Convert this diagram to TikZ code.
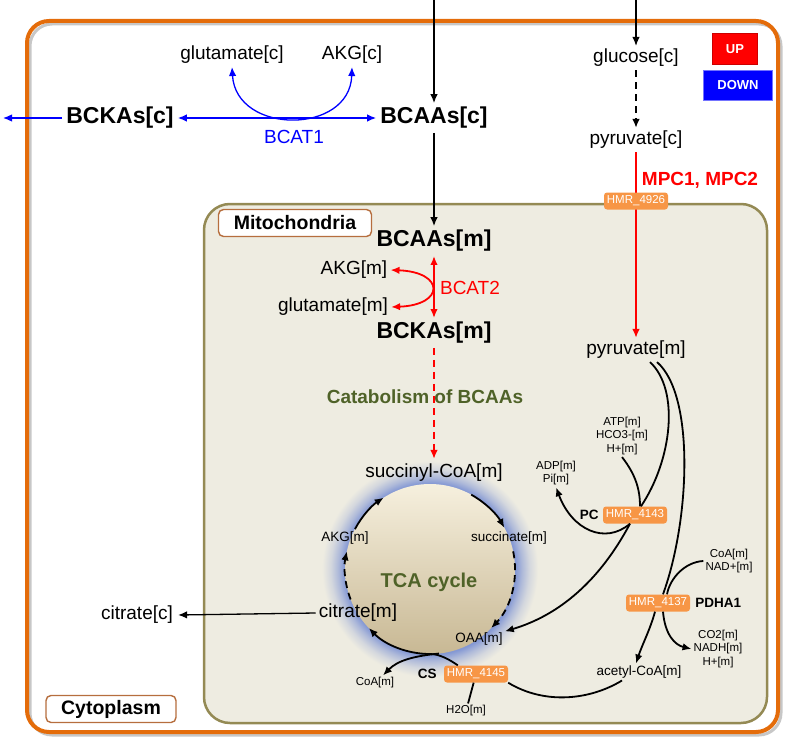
\documentclass[tikz,border=0pt]{standalone}
\usepackage{fontspec}
\setmainfont{Liberation Sans}
\usetikzlibrary{arrows.meta,positioning,calc}

\definecolor{cellorange}{RGB}{228,108,10}
\definecolor{mitofill}{RGB}{238,236,225}
\definecolor{mitoline}{RGB}{148,138,84}
\definecolor{tagbrown}{RGB}{182,110,62}
\definecolor{hmrorange}{RGB}{247,150,70}
\definecolor{olivetext}{RGB}{79,98,40}
\definecolor{glowblue}{RGB}{132,152,212}
\definecolor{tcatop}{RGB}{246,240,222}
\definecolor{tcabottom}{RGB}{200,184,148}

\pgfdeclareradialshading{tcaglow}{\pgfpointorigin}{color(0bp)=(glowblue); color(19.8bp)=(glowblue); color(21.3bp)=(glowblue!60!mitofill); color(23bp)=(glowblue!25!mitofill); color(25bp)=(mitofill); color(50bp)=(mitofill)}

\tikzset{
met/.style    = {font=\fontsize{19}{21}\selectfont, inner sep=3pt},
bigmet/.style = {font=\fontsize{23}{25}\selectfont\bfseries, inner sep=4pt},
cycmet/.style = {font=\fontsize{13.5}{15}\selectfont, inner sep=2pt},
cofac/.style  = {font=\fontsize{11.5}{13.5}\selectfont, inner sep=2pt, align=center},
enz/.style    = {font=\fontsize{19}{21}\selectfont, inner sep=1pt},
gene/.style   = {font=\fontsize{13.5}{15}\selectfont\bfseries, inner sep=1pt},
hmr/.style    = {fill=hmrorange, text=white, rounded corners=3pt, font=\fontsize{11.5}{13}\selectfont, minimum width=64pt, minimum height=17pt, inner sep=1pt},
comp/.style   = {draw=tagbrown, fill=white, line width=1.4pt, rounded corners=5pt, font=\fontsize{19.5}{21}\selectfont\bfseries, minimum height=27pt},
legend/.style = {text=white, font=\fontsize{13}{15}\selectfont\bfseries},
flux/.style   = {line width=1.3pt},
rxn/.style    = {line width=1.8pt},
dflux/.style  = {line width=1.8pt, dash pattern=on 7pt off 5pt}
}

\begin{document}
\begin{tikzpicture}[x=1pt, y=-1pt, >={Latex[length=9pt,width=7.5pt]}]
  \useasboundingbox (0,0) rectangle (787,741);
  % compartments
  \draw [black!22, line width=3pt, rounded corners=22pt] (30,24) rectangle (781,735);
  \draw [cellorange, line width=4pt, rounded corners=22pt] (27,21) rectangle (778,732);
  \draw [mitoline, fill=mitofill, line width=2.5pt, rounded corners=26pt] (204,204) rectangle (767,723);
  \coordinate (tcac) at (430,569);
  \shade [shading=tcaglow] (tcac) circle [radius=108];
  \shade [top color=tcatop, bottom color=tcabottom] (tcac) circle [radius=85];

  \node [comp, minimum width=153pt]                (mito)    at (295,223)  {Mitochondria};
  \node [comp, minimum width=130pt]                (cyto)    at (111,709)  {Cytoplasm};
  \node [legend, fill=red, draw=red!80!black, minimum width=45pt, minimum height=31pt]  (up)   at (735,49) {UP};
  \node [legend, fill=blue, draw=blue!55, minimum width=69pt, minimum height=30pt] (down) at (738,85) {DOWN};

  % cytoplasm
  \node [met]                                      (glutc)   at (232,55)   {glutamate[c]};
  \node [met]                                      (akgc)    at (352,55)   {AKG[c]};
  \node [bigmet]                                   (bckac)   at (120,118)  {BCKAs[c]};
  \node [bigmet]                                   (bcaac)   at (434,118)  {BCAAs[c]};
  \node [enz, text=blue]                           (bcat1)   at (294,137)  {BCAT1};
  \node [met]                                      (glucc)   at (636,58)   {glucose[c]};
  \node [met]                                      (pyrc)    at (636,140)  {pyruvate[c]};
  \node [enz, text=red, font=\fontsize{19}{21}\selectfont\bfseries] (mpc) at (700,180) {MPC1, MPC2};
  \node [met, inner sep=5pt]                       (citc)    at (137,615)  {citrate[c]};
  \coordinate                                      (bckaout) at (3,118);
  \coordinate                                      (bcaain)  at (434,0);
  \coordinate                                      (glucin)  at (636,0);

  % mitochondria
  \node [bigmet]                                   (bcaam)   at (434,241)  {BCAAs[m]};
  \node [met]                                      (akgm)    at (354,270)  {AKG[m]};
  \node [met]                                      (glutm)   at (333,307)  {glutamate[m]};
  \node [enz, text=red]                            (bcat2)   at (470,288)  {BCAT2};
  \node [bigmet]                                   (bckam)   at (434,333)  {BCKAs[m]};
  \node [enz, text=olivetext, font=\fontsize{19}{21}\selectfont\bfseries] (catab) at (425,397) {Catabolism of BCAAs};
  \node [met, inner sep=5pt]                       (succoa)  at (434,473)  {succinyl-CoA[m]};
  \node [cycmet]                                   (akgm2)   at (345,538)  {AKG[m]};
  \node [cycmet]                                   (succ)    at (509,538)  {succinate[m]};
  \node [enz, text=olivetext, font=\fontsize{20}{22}\selectfont\bfseries] (tca) at (429,582) {TCA cycle};
  \node [met]                                      (citm)    at (358,613)  {citrate[m]};
  \node [cycmet]                                   (oaa)     at (479,639)  {OAA[m]};
  \node [met]                                      (pyrm)    at (636,350)  {pyruvate[m]};
  \node [cofac]                                    (atp)     at (622,436)  {ATP[m]\\HCO3-[m]\\H+[m]};
  \node [cofac]                                    (adp)     at (556,473)  {ADP[m]\\Pi[m]};
  \node [cofac]                                    (coanad)  at (729,561)  {CoA[m]\\NAD+[m]};
  \node [cofac]                                    (co2)     at (718,649)  {CO2[m]\\NADH[m]\\H+[m]};
  \node [cycmet]                                   (acoa)    at (639,672)  {acetyl-CoA[m]};
  \node [cofac]                                    (coam)    at (375,683)  {CoA[m]};
  \node [cofac]                                    (h2o)     at (466,711)  {H2O[m]};

  \draw [->, red, rxn] (pyrc) -- (pyrm);
  \node [hmr]                                      (hmr4926) at (636,201)  {HMR\_4926};
  \node [hmr]                                      (hmr4143) at (635,515)  {HMR\_4143};
  \node [hmr]                                      (hmr4137) at (658,603)  {HMR\_4137};
  \node [hmr]                                      (hmr4145) at (476,674)  {HMR\_4145};
  \node [gene, left=3pt of hmr4143]                (pc)      {PC};
  \node [gene, right=4pt of hmr4137]               (pdha1)   {PDHA1};
  \node [gene, left=6pt of hmr4145]                (cs)      {CS};

  % transport and BCAA steps
  \draw [->, flux] (bcaain) -- (bcaac);
  \draw [->, flux] (bcaac) -- (bcaam);
  \draw [->, flux] (glucin) -- (glucc);
  \draw [->, dflux] (glucc) -- (pyrc);
  \draw [<->, blue, flux] (bckac) -- (bcaac);
  \draw [->, blue, flux] (bckac) -- (bckaout);
  \draw [<->, blue, flux] (glutc.south) .. controls (236,135) and (350,135) .. (akgc.south);
  \draw [<->, red, rxn] (bcaam) -- (bckam);
  \draw [<->, red, rxn] (akgm.east) .. controls (445,272) and (445,305) .. (glutm.east);
  \draw [->, red, dflux] (bckam) -- (succoa);
  \draw [->, flux] (citm.west) -- (citc.east);

  % TCA cycle
  \draw [->, rxn] ([shift={(-152:85)}]tcac) arc [start angle=-152, end angle=-123, radius=85];
  \draw [->, rxn] ([shift={(-61:85)}]tcac) arc [start angle=-61, end angle=-29, radius=85];
  \draw [->, dflux] ([shift={(-12:85)}]tcac) arc [start angle=-12, end angle=44, radius=85];
  \draw [->, dflux] ([shift={(159:85)}]tcac) arc [start angle=159, end angle=192, radius=85];
  \draw [->, rxn] ([xshift=14pt]hmr4145.north west) .. controls (450,660) and (440,654) .. ([shift={(90:85)}]tcac) arc [start angle=90, end angle=136, radius=85];
  \draw [->, rxn] ([shift={(84:85)}]tcac) .. controls (415,656) and (398,660) .. ([xshift=8pt]coam.north);
  \draw [rxn] (h2o) -- (hmr4145);
  \draw [rxn] ([xshift=-17pt]acoa.south) .. controls (590,700) and (545,705) .. (hmr4145.south east);

  % pyruvate branches
  \draw [rxn] ([xshift=14pt]pyrm.south) .. controls (680,390) and (672,460) .. ([xshift=6pt]hmr4143.north);
  \draw [rxn] (atp.south) .. controls (636,475) and (640,490) .. ([xshift=5pt]hmr4143.north);
  \draw [->, rxn] ([xshift=-5pt]hmr4143.south) .. controls (605,545) and (572,530) .. (adp.south);
  \draw [->, rxn] ([xshift=-5pt]hmr4143.south) .. controls (600,580) and (560,615) .. (oaa);
  \draw [rxn] ([xshift=21pt]pyrm.south) .. controls (695,395) and (690,520) .. ([xshift=5pt]hmr4137.north);
  \draw [rxn] (coanad.west) .. controls (685,562) and (670,578) .. ([xshift=9pt]hmr4137.north);
  \draw [->, rxn] ([xshift=5pt]hmr4137.south) .. controls (665,635) and (675,645) .. (co2.west);
  \draw [->, rxn] ([xshift=-3pt]hmr4137.south) .. controls (650,630) and (642,645) .. ([xshift=-3pt]acoa.north);
\end{tikzpicture}
\end{document}
